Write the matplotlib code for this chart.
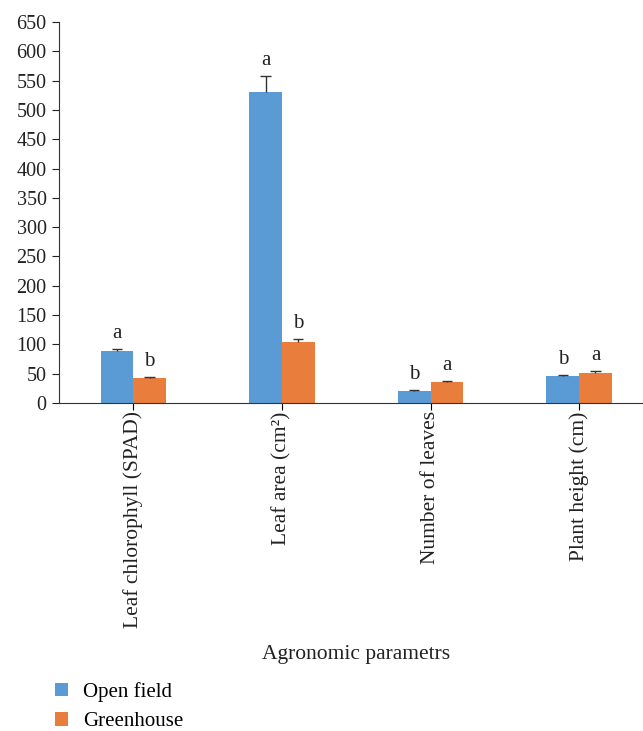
import matplotlib.pyplot as plt
import numpy as np

plt.rcParams['font.family'] = ['Liberation Serif', 'DejaVu Serif']

categories = ['Leaf chlorophyll (SPAD)', 'Leaf area (cm²)', 'Number of leaves', 'Plant height (cm)']
open_field = [89, 531, 20.5, 46.5]
open_err = [3, 27, 1.5, 1.5]
greenhouse = [43, 104, 36, 52]
green_err = [1.5, 6, 2, 2]
open_letters = ['a', 'a', 'b', 'b']
green_letters = ['b', 'b', 'a', 'a']

blue = '#5b9bd5'
orange = '#e97d3c'
dark = '#222222'

fig = plt.figure(figsize=(6.43, 7.31), dpi=100)
ax = fig.add_axes([59 / 643, 1 - 403 / 731, 1 - 59 / 643, 381 / 731])

x = np.arange(len(categories))
w = 0.22
cap = 0.035

# bars
ax.bar(x - w / 2, open_field, w, color=blue, label='Open field', zorder=2)
ax.bar(x + w / 2, greenhouse, w, color=orange, label='Greenhouse', zorder=2)

# plus-only error bars (Excel style)
for xs, vals, errs in [(x - w / 2, open_field, open_err), (x + w / 2, greenhouse, green_err)]:
    tops = np.array(vals) + np.array(errs)
    ax.vlines(xs, vals, tops, color='#333333', lw=1, zorder=3)
    ax.hlines(tops, xs - cap, xs + cap, color='#333333', lw=1, zorder=3)

# significance letters
for i in range(len(x)):
    ax.text(x[i] - w / 2, open_field[i] + open_err[i] + 10, open_letters[i],
            ha='center', va='bottom', fontsize=15, color=dark)
    ax.text(x[i] + w / 2, greenhouse[i] + green_err[i] + 10, green_letters[i],
            ha='center', va='bottom', fontsize=15, color=dark)

ax.set_ylim(0, 650)
ax.set_yticks(np.arange(0, 651, 50))
ax.set_xlim(-0.5, 3.43)
ax.set_xticks(x)
ax.set_xticklabels(categories, rotation=90, fontsize=15.5, color=dark)
ax.tick_params(axis='y', labelsize=14.5, colors=dark, direction='out', length=5, pad=4)
ax.tick_params(axis='x', direction='out', length=5, pad=1)
for s in ['top', 'right']:
    ax.spines[s].set_visible(False)
ax.spines['left'].set_color('#333333')
ax.spines['bottom'].set_color('#333333')

fig.text(356 / 643, 1 - 655 / 731, 'Agronomic parametrs', ha='center', va='center',
         fontsize=15.5, color=dark)

fig.legend(loc='upper left', bbox_to_anchor=(55 / 643, 1 - 682 / 731), frameon=False,
           fontsize=15, handlelength=0.6, handleheight=0.6, handletextpad=0.75,
           labelspacing=0.5, borderaxespad=0, borderpad=0)

fig.savefig('out.png', dpi=100)
